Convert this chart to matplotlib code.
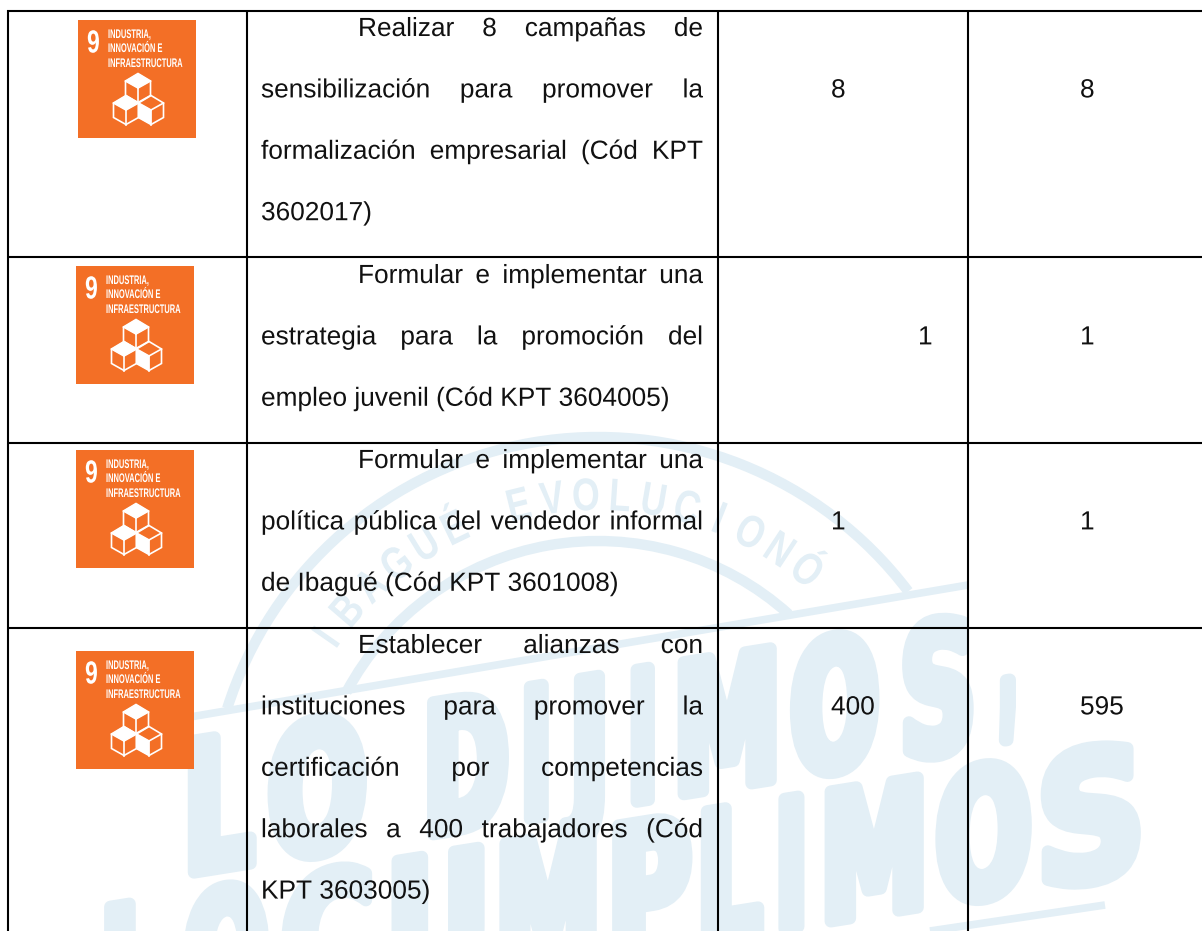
# -*- coding: utf-8 -*-
import numpy as np
from matplotlib import patheffects
from matplotlib import pyplot as plt
from matplotlib.patches import Arc, Polygon, Rectangle
from matplotlib.transforms import Affine2D

# table content, one list of lines per row (justified like in the document)
goal_number = "9"
goal_lines = ["INDUSTRIA,", "INNOVACIÓN E", "INFRAESTRUCTURA"]
row_texts = [
    ["Realizar 8 campañas de",
     "sensibilización para promover la",
     "formalización empresarial (Cód KPT",
     "3602017)"],
    ["Formular e implementar una",
     "estrategia para la promoción del",
     "empleo juvenil (Cód KPT 3604005)"],
    ["Formular e implementar una",
     "política pública del vendedor informal",
     "de Ibagué (Cód KPT 3601008)"],
    ["Establecer alianzas con",
     "instituciones para promover la",
     "certificación por competencias",
     "laborales a 400 trabajadores (Cód",
     "KPT 3603005)"],
]
col_planned = ["8", "", "1", "400"]
col_planned_shifted = ["", "1", "", ""]
col_done = ["8", "1", "1", "595"]
wm_line1 = "LODIJIMOS,"
wm_line2 = "LOCUMPLIMOS"
wm_arc = "IBAGUÉ EVOLUCIONÓ"

# layout in image pixels
W, H = 1202, 931
V_LINES = [8, 247, 718, 968]
H_LINES = [11, 257, 443, 628]
ROW_BASE = [36, 283, 468, 653]
LINE_STEP = 61.4
TEXT_L, TEXT_R, INDENT = 261, 703, 358
ICONS = [(78, 20), (76, 266), (76, 450), (76, 651)]
ORANGE = "#f36f26"
WATER = "#e3eff6"
INK = "#111111"
BODY = 18.9
# left and right end of each logo letter
SPANS1 = [(183, 257), (267, 367), (423, 510), (523, 557), (570, 615), (630, 663),
          (673, 780), (790, 880), (900, 978), (1003, 1022)]
SPANS2 = [(100, 170), (183, 270), (280, 375), (385, 490), (495, 600), (607, 693),
          (697, 765), (777, 813), (820, 927), (935, 1032), (1035, 1145)]

plt.rcParams["text.hinting"] = "none"

fig = plt.figure(figsize=(W / 100, H / 100), dpi=100)
ax = fig.add_axes([0, 0, 1, 1])
ax.set_xlim(0, W)
ax.set_ylim(H, 0)
ax.axis("off")
renderer = fig.canvas.get_renderer()


class Squeeze(patheffects.AbstractPathEffect):
    # squeezes the glyphs sideways and shears them, the fonts here are too wide
    def __init__(self, sx, rise=0.0, stroke=0.0):
        super().__init__()
        self.matrix = Affine2D.from_values(sx, rise * sx, 0, 1, 0, 0)
        self.stroke = stroke

    def draw_path(self, renderer, gc, tpath, affine, rgbFace=None):
        gc0 = renderer.new_gc()
        gc0.copy_properties(gc)
        if self.stroke:
            gc0.set_foreground(rgbFace)
            gc0.set_linewidth(self.stroke)
        renderer.draw_path(gc0, tpath, self.matrix + affine, rgbFace)
        gc0.restore()


def text_width(s, **kw):
    t = ax.text(0, 0, s, **kw)
    w = t.get_window_extent(renderer).width
    t.remove()
    return w


def slanted_line(s, spans, x0, y0, size, rise):
    # one big logo line, the verticals stay upright and the baseline climbs
    kw = dict(family="DejaVu Sans", weight="bold", fontsize=size)
    for c, (left, right) in zip(s, spans):
        sx = (right - left - 12) * 1.12 / text_width(c, **kw)
        y = y0 - rise * (left - x0) - (28 if c == "," else 0)
        t = ax.text(left + 1, y, c, color=WATER, ha="left", va="baseline", zorder=1, **kw)
        t.set_path_effects([Squeeze(sx, rise, stroke=9)])


def draw_watermark():
    cx, cy = 598, 826
    ax.add_patch(Arc((cx, cy), 2 * 389, 2 * 389, theta1=197.6, theta2=322.9, color=WATER, lw=7.5, zorder=1))
    ax.add_patch(Arc((cx, cy), 2 * 285, 2 * 285, theta1=208, theta2=312, color=WATER, lw=7.5, zorder=1))
    ax.plot([190, 968], [717, 585], color=WATER, lw=5.5, zorder=1, solid_capstyle="butt")
    ax.plot([930, 1105], [931, 905], color=WATER, lw=5.5, zorder=1, solid_capstyle="butt")

    kw = dict(family="Liberation Sans", weight="bold", fontsize=33)
    sx = 0.78
    for c, deg in zip(wm_arc, np.linspace(-55.2, 39.2, len(wm_arc))):
        if c == " ":
            continue
        r = np.deg2rad(deg)
        half = text_width(c, **kw) * sx / 2
        px = cx + 316 * np.sin(r) - half * np.cos(r)
        py = cy - 316 * np.cos(r) - half * np.sin(r)
        t = ax.text(px, py, c, color=WATER, rotation=-deg, rotation_mode="anchor",
                    ha="left", va="baseline", zorder=1, **kw)
        t.set_path_effects([Squeeze(sx)])

    slanted_line(wm_line1, SPANS1, 183, 874, 130, 0.16)
    slanted_line(wm_line2, SPANS2, 100, 1038, 128, 0.16)
    # the logo stops at the last column above the last row
    ax.add_patch(Rectangle((970, 0), W - 970, 628, color="white", zorder=2))


def draw_icon(x, y):
    ax.add_patch(Rectangle((x, y), 118, 118, color=ORANGE, lw=0, zorder=3))
    t = ax.text(x + 9, y + 32.5, goal_number, color="white", family="Liberation Sans", weight="bold",
                fontsize=23, ha="left", va="baseline", zorder=4)
    t.set_path_effects([Squeeze(0.72)])
    for line, off in zip(goal_lines, (18, 32, 47)):
        t = ax.text(x + 30, y + off, line, color="white", family="Liberation Sans", weight="bold",
                    fontsize=9, ha="left", va="baseline", zorder=4)
        t.set_path_effects([Squeeze(0.6)])
    for cx, cy, fill in ((60, 68, "top"), (48, 90, "top"), (73, 90, "left")):
        cx, cy = x + cx, y + cy
        top, ur, lr = (cx, cy - 14.5), (cx + 12.5, cy - 7), (cx + 12.5, cy + 7.5)
        bottom, ll, ul = (cx, cy + 14.5), (cx - 12.5, cy + 7.5), (cx - 12.5, cy - 7)
        mid = (cx, cy)
        ax.add_patch(Polygon([top, ur, lr, bottom, ll, ul], closed=True, fc="none", ec="white", lw=1.2, zorder=4))
        for end in (ur, ul, bottom):
            ax.plot([cx, end[0]], [cy, end[1]], color="white", lw=1.2, zorder=4)
        face = [top, ur, mid, ul] if fill == "top" else [ul, mid, bottom, ll]
        ax.add_patch(Polygon(face, closed=True, fc="white", ec="white", lw=0.5, zorder=4))


body_kw = dict(family="Liberation Sans", fontsize=BODY, color=INK, va="baseline", ha="left", zorder=5,
               path_effects=[patheffects.Normal()])


def draw_justified(line, y, left, right, justify):
    words = line.split(" ")
    widths = [text_width(w, **body_kw) for w in words]
    space = text_width("a a", **body_kw) - text_width("aa", **body_kw)
    if justify and len(words) > 1:
        space = (right - left - sum(widths)) / (len(words) - 1)
    x = left
    for w, wd in zip(words, widths):
        ax.text(x, y, w, **body_kw)
        x += wd + space


draw_watermark()

for x, y in ICONS:
    draw_icon(x, y)

for lines, base in zip(row_texts, ROW_BASE):
    for i, line in enumerate(lines):
        left = INDENT if i == 0 else TEXT_L
        draw_justified(line, base + i * LINE_STEP, left, TEXT_R, i < len(lines) - 1)

for i, base in enumerate(ROW_BASE):
    y = base + LINE_STEP
    if col_planned[i]:
        ax.text(831, y, col_planned[i], **body_kw)
    if col_planned_shifted[i]:
        ax.text(918, y, col_planned_shifted[i], **body_kw)
    ax.text(1080, y, col_done[i], **body_kw)

for x in V_LINES:
    ax.plot([x, x], [H_LINES[0] - 1, H], color="black", lw=1.5, zorder=6, solid_capstyle="butt")
for y in H_LINES:
    ax.plot([V_LINES[0] - 1, W], [y, y], color="black", lw=1.5, zorder=6, solid_capstyle="butt")

fig.savefig("out.png", dpi=100)
